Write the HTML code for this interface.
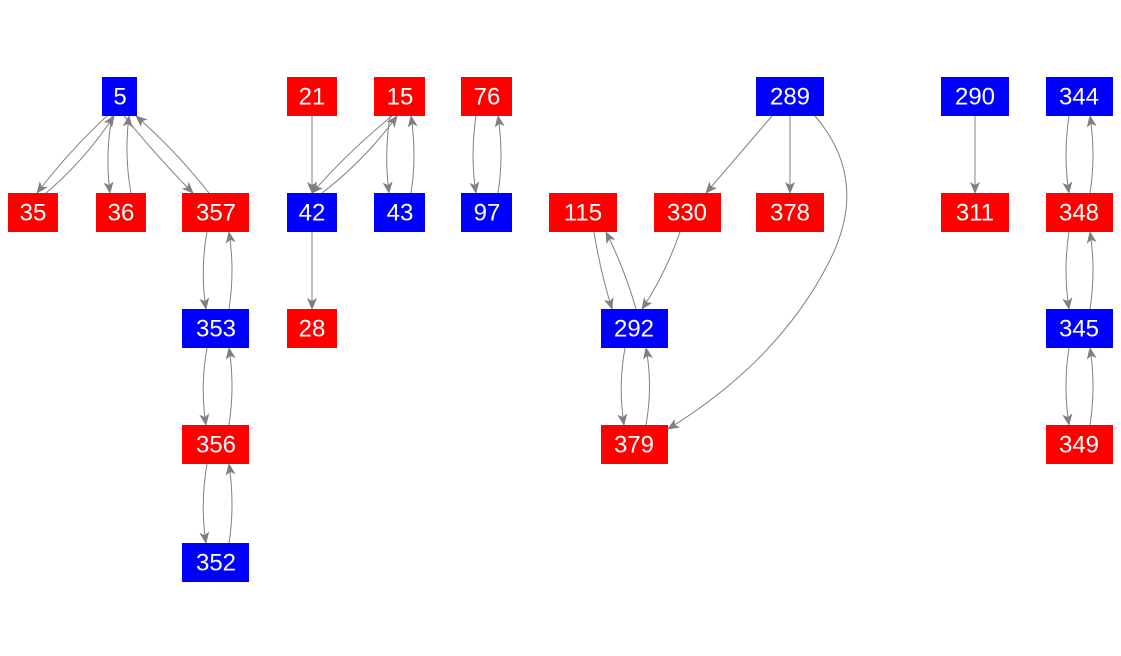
<!DOCTYPE html>
<html><head><meta charset="utf-8"><style>
html,body{margin:0;padding:0;background:#fff;width:1121px;height:656px;overflow:hidden}
svg{display:block}
text{font-family:"Liberation Sans",Arial,sans-serif;font-size:24px;fill:#fff;text-anchor:middle;dominant-baseline:central}
path{fill:none;stroke:#808080;stroke-width:1}
</style></head><body>
<svg width="1121" height="656" viewBox="0 0 1121 656">
<defs><marker id="a" markerWidth="12" markerHeight="10" refX="11" refY="5" orient="auto" markerUnits="userSpaceOnUse"><path d="M0,0 L12,5 L0,10 L3,5 Z" style="fill:#808080;stroke:none"/></marker></defs>
<g marker-end="url(#a)">
<path d="M107,116 Q70,150 37,193"/>
<path d="M46,193 Q85,160 114,116"/>
<path d="M112,116 Q105,155 110,193"/>
<path d="M131,193 Q124,155 129,116"/>
<path d="M124,116 Q160,160 193,193"/>
<path d="M209,193 Q175,150 136,116"/>
<path d="M207,232 Q200,270 206,309"/>
<path d="M229,309 Q235,270 229,232"/>
<path d="M207,348 Q200,386 206,425"/>
<path d="M229,425 Q235,386 229,348"/>
<path d="M207,464 Q200,505 206,543"/>
<path d="M229,543 Q235,505 229,464"/>
<path d="M312,116 L312,193"/>
<path d="M392,116 Q350,150 312,193"/>
<path d="M322,193 Q365,160 397,116"/>
<path d="M390,116 Q384,155 389,193"/>
<path d="M411,193 Q417,155 411,116"/>
<path d="M312,232 L312,309"/>
<path d="M476,116 Q470,155 476,193"/>
<path d="M498,193 Q504,155 498,116"/>
<path d="M772,116 L706,193"/>
<path d="M790,116 L790,193"/>
<path d="M815,116 Q870,180 830,260 Q780,360 668,429"/>
<path d="M594,232 Q600,270 612,309"/>
<path d="M636,309 Q625,270 606,232"/>
<path d="M680,232 Q665,275 642,309"/>
<path d="M625,348 Q618,386 624,425"/>
<path d="M646,425 Q653,386 646,348"/>
<path d="M975,116 L975,193"/>
<path d="M1069,116 Q1063,155 1069,193"/>
<path d="M1090,193 Q1096,155 1090,116"/>
<path d="M1069,232 Q1063,270 1069,309"/>
<path d="M1090,309 Q1096,270 1090,232"/>
<path d="M1069,348 Q1063,386 1069,425"/>
<path d="M1090,425 Q1096,386 1090,348"/>
</g>
<g>
<rect x="102" y="77" width="35" height="39" fill="#0000ff"/><text x="120" y="97">5</text>
<rect x="8" y="193" width="50" height="39" fill="#ff0000"/><text x="33" y="213">35</text>
<rect x="96" y="193" width="50" height="39" fill="#ff0000"/><text x="121" y="213">36</text>
<rect x="182" y="193" width="67" height="39" fill="#ff0000"/><text x="216" y="213">357</text>
<rect x="182" y="309" width="67" height="39" fill="#0000ff"/><text x="216" y="329">353</text>
<rect x="182" y="425" width="67" height="39" fill="#ff0000"/><text x="216" y="445">356</text>
<rect x="182" y="543" width="67" height="39" fill="#0000ff"/><text x="216" y="563">352</text>
<rect x="287" y="77" width="50" height="39" fill="#ff0000"/><text x="312" y="97">21</text>
<rect x="374" y="77" width="51" height="39" fill="#ff0000"/><text x="400" y="97">15</text>
<rect x="287" y="193" width="50" height="39" fill="#0000ff"/><text x="312" y="213">42</text>
<rect x="374" y="193" width="51" height="39" fill="#0000ff"/><text x="400" y="213">43</text>
<rect x="287" y="309" width="50" height="39" fill="#ff0000"/><text x="312" y="329">28</text>
<rect x="461" y="77" width="51" height="39" fill="#ff0000"/><text x="487" y="97">76</text>
<rect x="461" y="193" width="51" height="39" fill="#0000ff"/><text x="487" y="213">97</text>
<rect x="756" y="77" width="68" height="39" fill="#0000ff"/><text x="790" y="97">289</text>
<rect x="549" y="193" width="68" height="39" fill="#ff0000"/><text x="583" y="213">115</text>
<rect x="654" y="193" width="67" height="39" fill="#ff0000"/><text x="687" y="213">330</text>
<rect x="756" y="193" width="68" height="39" fill="#ff0000"/><text x="790" y="213">378</text>
<rect x="601" y="309" width="67" height="39" fill="#0000ff"/><text x="634" y="329">292</text>
<rect x="601" y="425" width="67" height="39" fill="#ff0000"/><text x="634" y="445">379</text>
<rect x="941" y="77" width="68" height="39" fill="#0000ff"/><text x="975" y="97">290</text>
<rect x="941" y="193" width="68" height="39" fill="#ff0000"/><text x="975" y="213">311</text>
<rect x="1046" y="77" width="67" height="39" fill="#0000ff"/><text x="1079" y="97">344</text>
<rect x="1046" y="193" width="67" height="39" fill="#ff0000"/><text x="1079" y="213">348</text>
<rect x="1046" y="309" width="67" height="39" fill="#0000ff"/><text x="1079" y="329">345</text>
<rect x="1046" y="425" width="67" height="39" fill="#ff0000"/><text x="1079" y="445">349</text>
</g>
</svg>
</body></html>
